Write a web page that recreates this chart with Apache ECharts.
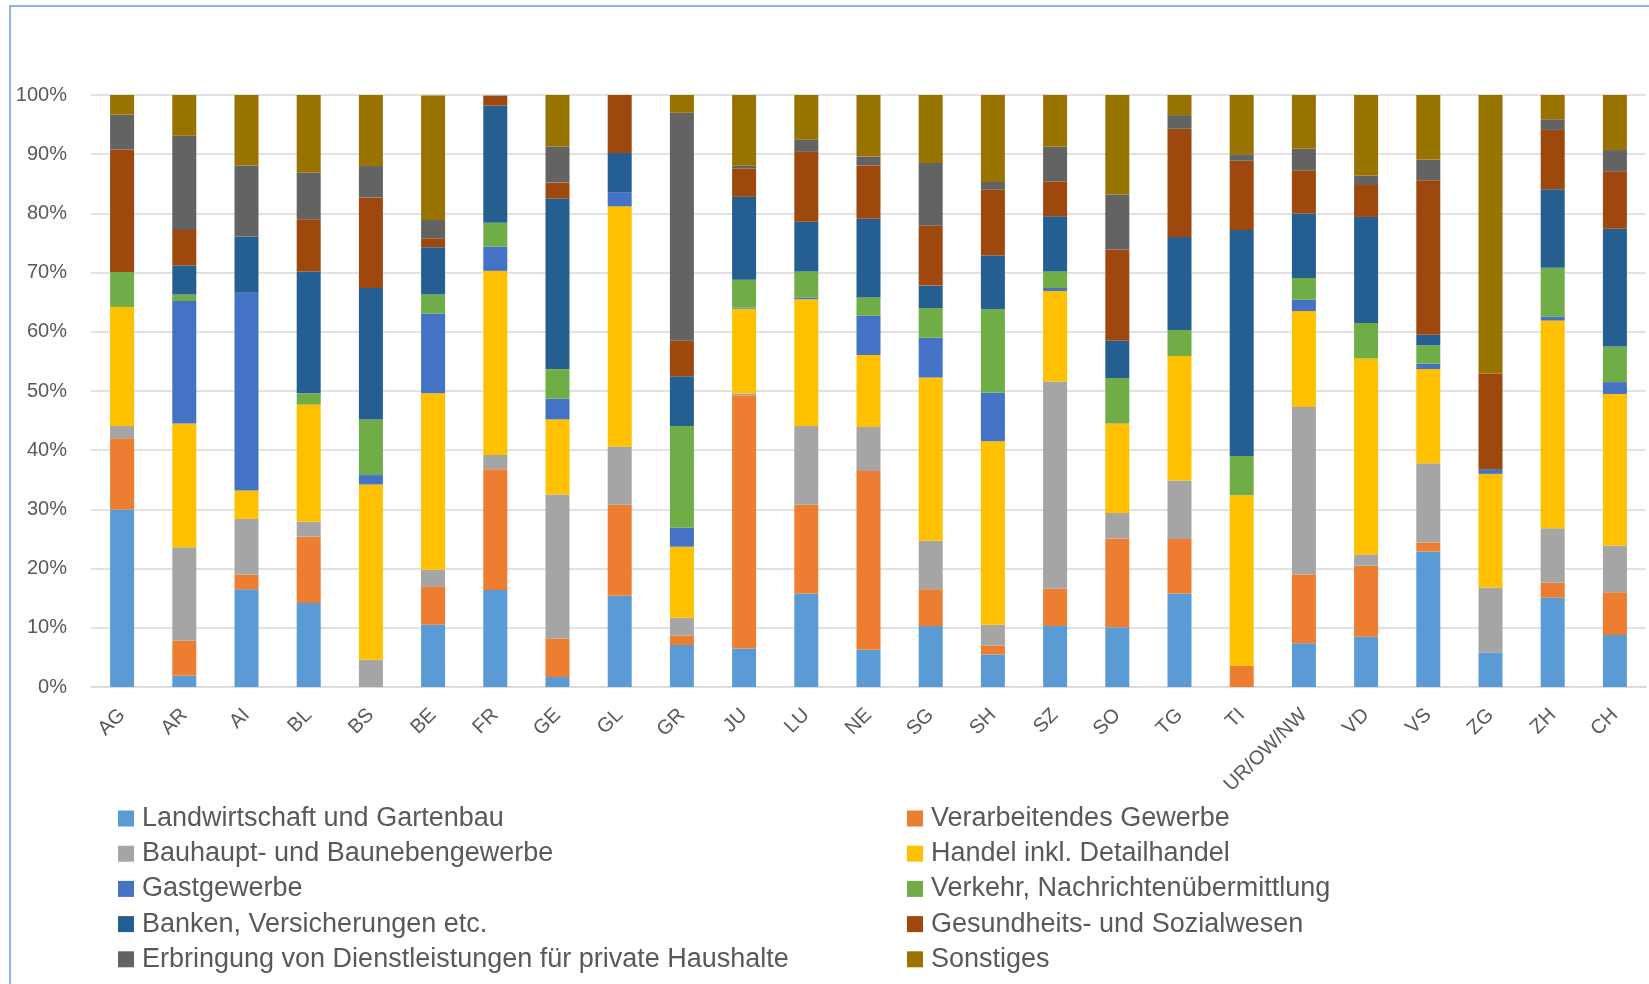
<!DOCTYPE html>
<html>
<head>
<meta charset="utf-8">
<title>Beschäftigte nach Branchen und Kantonen</title>
<script src="https://cdn.jsdelivr.net/npm/echarts@6/dist/echarts.min.js"></script>
<style>
  html, body { margin: 0; padding: 0; background: #ffffff; }
  #chart { width: 1649px; height: 984px; }
</style>
</head>
<body>
<div id="chart"></div>
<script>
// Cantons (plus Switzerland overall)
const cantons = ['AG','AR','AI','BL','BS','BE','FR','GE','GL','GR','JU','LU','NE','SG','SH','SZ','SO','TG','TI','UR/OW/NW','VD','VS','ZG','ZH','CH'];

// Share per sector, in percent
const landwirtschaft = [30.0, 1.9, 16.5, 14.2, 0.0, 10.5, 16.4, 1.7, 15.4, 7.1, 6.5, 15.8, 6.3, 10.3, 5.5, 10.3, 10.1, 15.8, 0.0, 7.4, 8.5, 22.9, 5.8, 15.1, 8.8];
const verarbeitendes = [12.0, 5.9, 2.5, 11.2, 0.0, 6.5, 20.4, 6.5, 15.4, 1.6, 42.8, 15.0, 30.2, 6.2, 1.5, 6.3, 15.0, 9.2, 3.6, 11.6, 12.0, 1.5, 0.0, 2.5, 7.2];
const bauhaupt = [2.1, 15.8, 9.4, 2.5, 4.6, 2.8, 2.4, 24.3, 9.8, 3.0, 0.3, 13.3, 7.4, 8.2, 3.5, 35.0, 4.3, 9.9, 0.0, 28.3, 1.9, 13.4, 11.0, 9.2, 7.9];
const handel = [20.1, 20.9, 4.8, 19.8, 29.6, 29.8, 31.1, 12.7, 40.6, 12.0, 14.3, 21.4, 12.2, 27.6, 31.0, 15.3, 15.1, 21.0, 28.8, 16.2, 33.1, 15.9, 19.2, 35.1, 25.6];
const gastgewerbe = [0.0, 20.7, 33.4, 0.0, 1.6, 13.5, 4.1, 3.5, 2.4, 3.2, 0.2, 0.3, 6.6, 6.7, 8.2, 0.5, 0.0, 0.0, 0.0, 1.9, 0.0, 0.9, 0.8, 0.7, 2.0];
const verkehr = [5.9, 1.1, 0.0, 1.9, 9.4, 3.2, 4.0, 5.0, 0.0, 17.2, 4.7, 4.4, 3.1, 5.0, 14.1, 2.8, 7.7, 4.4, 6.6, 3.7, 6.0, 3.1, 0.0, 8.2, 6.0];
const banken = [0.0, 4.9, 9.5, 20.6, 22.2, 8.0, 19.8, 28.8, 6.6, 8.4, 14.0, 8.4, 13.3, 3.8, 9.1, 9.3, 6.3, 15.7, 38.2, 10.9, 17.9, 1.8, 0.0, 13.3, 19.9];
const gesundheit = [20.7, 6.0, 0.0, 8.8, 15.3, 1.5, 1.7, 2.7, 9.8, 6.0, 4.8, 11.8, 9.0, 10.1, 11.1, 5.9, 15.4, 18.3, 11.7, 7.3, 5.4, 26.1, 16.1, 10.0, 9.7];
const haushalte = [5.9, 15.9, 12.0, 7.9, 5.3, 3.1, 0.0, 6.1, 0.0, 38.5, 0.5, 2.1, 1.5, 10.6, 1.3, 5.9, 9.3, 2.3, 1.1, 3.6, 1.6, 3.5, 0.0, 1.8, 3.6];
const sonstiges = [3.3, 6.9, 11.9, 13.2, 12.0, 21.0, 0.0, 8.7, 0.0, 3.0, 11.9, 7.5, 10.4, 11.5, 14.7, 8.7, 16.8, 3.4, 10.0, 9.1, 13.6, 10.9, 47.1, 4.1, 9.3];

const sectorNames = [
  'Landwirtschaft und Gartenbau',
  'Verarbeitendes Gewerbe',
  'Bauhaupt- und Baunebengewerbe',
  'Handel inkl. Detailhandel',
  'Gastgewerbe',
  'Verkehr, Nachrichtenübermittlung',
  'Banken, Versicherungen etc.',
  'Gesundheits- und Sozialwesen',
  'Erbringung von Dienstleistungen für private Haushalte',
  'Sonstiges'
];
const sectorValues = [landwirtschaft, verarbeitendes, bauhaupt, handel, gastgewerbe, verkehr, banken, gesundheit, haushalte, sonstiges];
const sectorColors = ['#5B9BD5', '#ED7D31', '#A5A5A5', '#FFC000', '#4472C4', '#70AD47', '#255E91', '#9E480E', '#636363', '#997300'];

const yTicks = { min: 0, max: 100, interval: 10 };

const FONT = '"Liberation Sans", Arial, sans-serif';
const TEXT = '#595959';

const chart = echarts.init(document.getElementById('chart'), null, { renderer: 'canvas' });

const series = sectorNames.map((name, i) => ({
  name: name,
  type: 'bar',
  stack: 'anteil',
  barWidth: 24,
  data: sectorValues[i],
  itemStyle: { color: sectorColors[i] },
  emphasis: { disabled: true }
}));

// Two legend columns: even-indexed sectors left, odd-indexed right
const legendStyle = {
  orient: 'vertical',
  top: 805,
  padding: 0,
  itemWidth: 16,
  itemHeight: 16,
  itemGap: 8.2,
  icon: 'rect',
  selectedMode: false,
  textStyle: { fontFamily: FONT, fontSize: 27, color: TEXT, lineHeight: 27, padding: [0, 0, 0, 3] }
};

chart.setOption({
  animation: false,
  backgroundColor: '#ffffff',
  color: sectorColors,
  graphic: [{
    type: 'rect',
    silent: true,
    shape: { x: 10, y: 6, width: 1800, height: 1200 },
    style: { fill: 'none', stroke: '#6F9DD8', lineWidth: 1.5 }
  }],
  grid: { left: 91, right: 3, top: 95, bottom: 297, containLabel: false },
  legend: [
    Object.assign({}, legendStyle, { left: 118, data: sectorNames.filter((_, i) => i % 2 === 0) }),
    Object.assign({}, legendStyle, { left: 907, data: sectorNames.filter((_, i) => i % 2 === 1) })
  ],
  xAxis: {
    type: 'category',
    data: cantons,
    axisLine: { show: true, lineStyle: { color: '#D9D9D9', width: 1.5 } },
    axisTick: { show: false },
    axisLabel: {
      interval: 0,
      rotate: 45,
      margin: 25,
      fontFamily: FONT,
      fontSize: 20,
      color: TEXT
    }
  },
  yAxis: {
    type: 'value',
    min: yTicks.min,
    max: yTicks.max,
    interval: yTicks.interval,
    axisLine: { show: false },
    axisTick: { show: false },
    splitLine: { lineStyle: { color: '#D9D9D9', width: 1.5 } },
    axisLabel: {
      formatter: '{value}%',
      margin: 24,
      fontFamily: FONT,
      fontSize: 20,
      color: TEXT
    }
  },
  series: series
});
</script>
</body>
</html>
